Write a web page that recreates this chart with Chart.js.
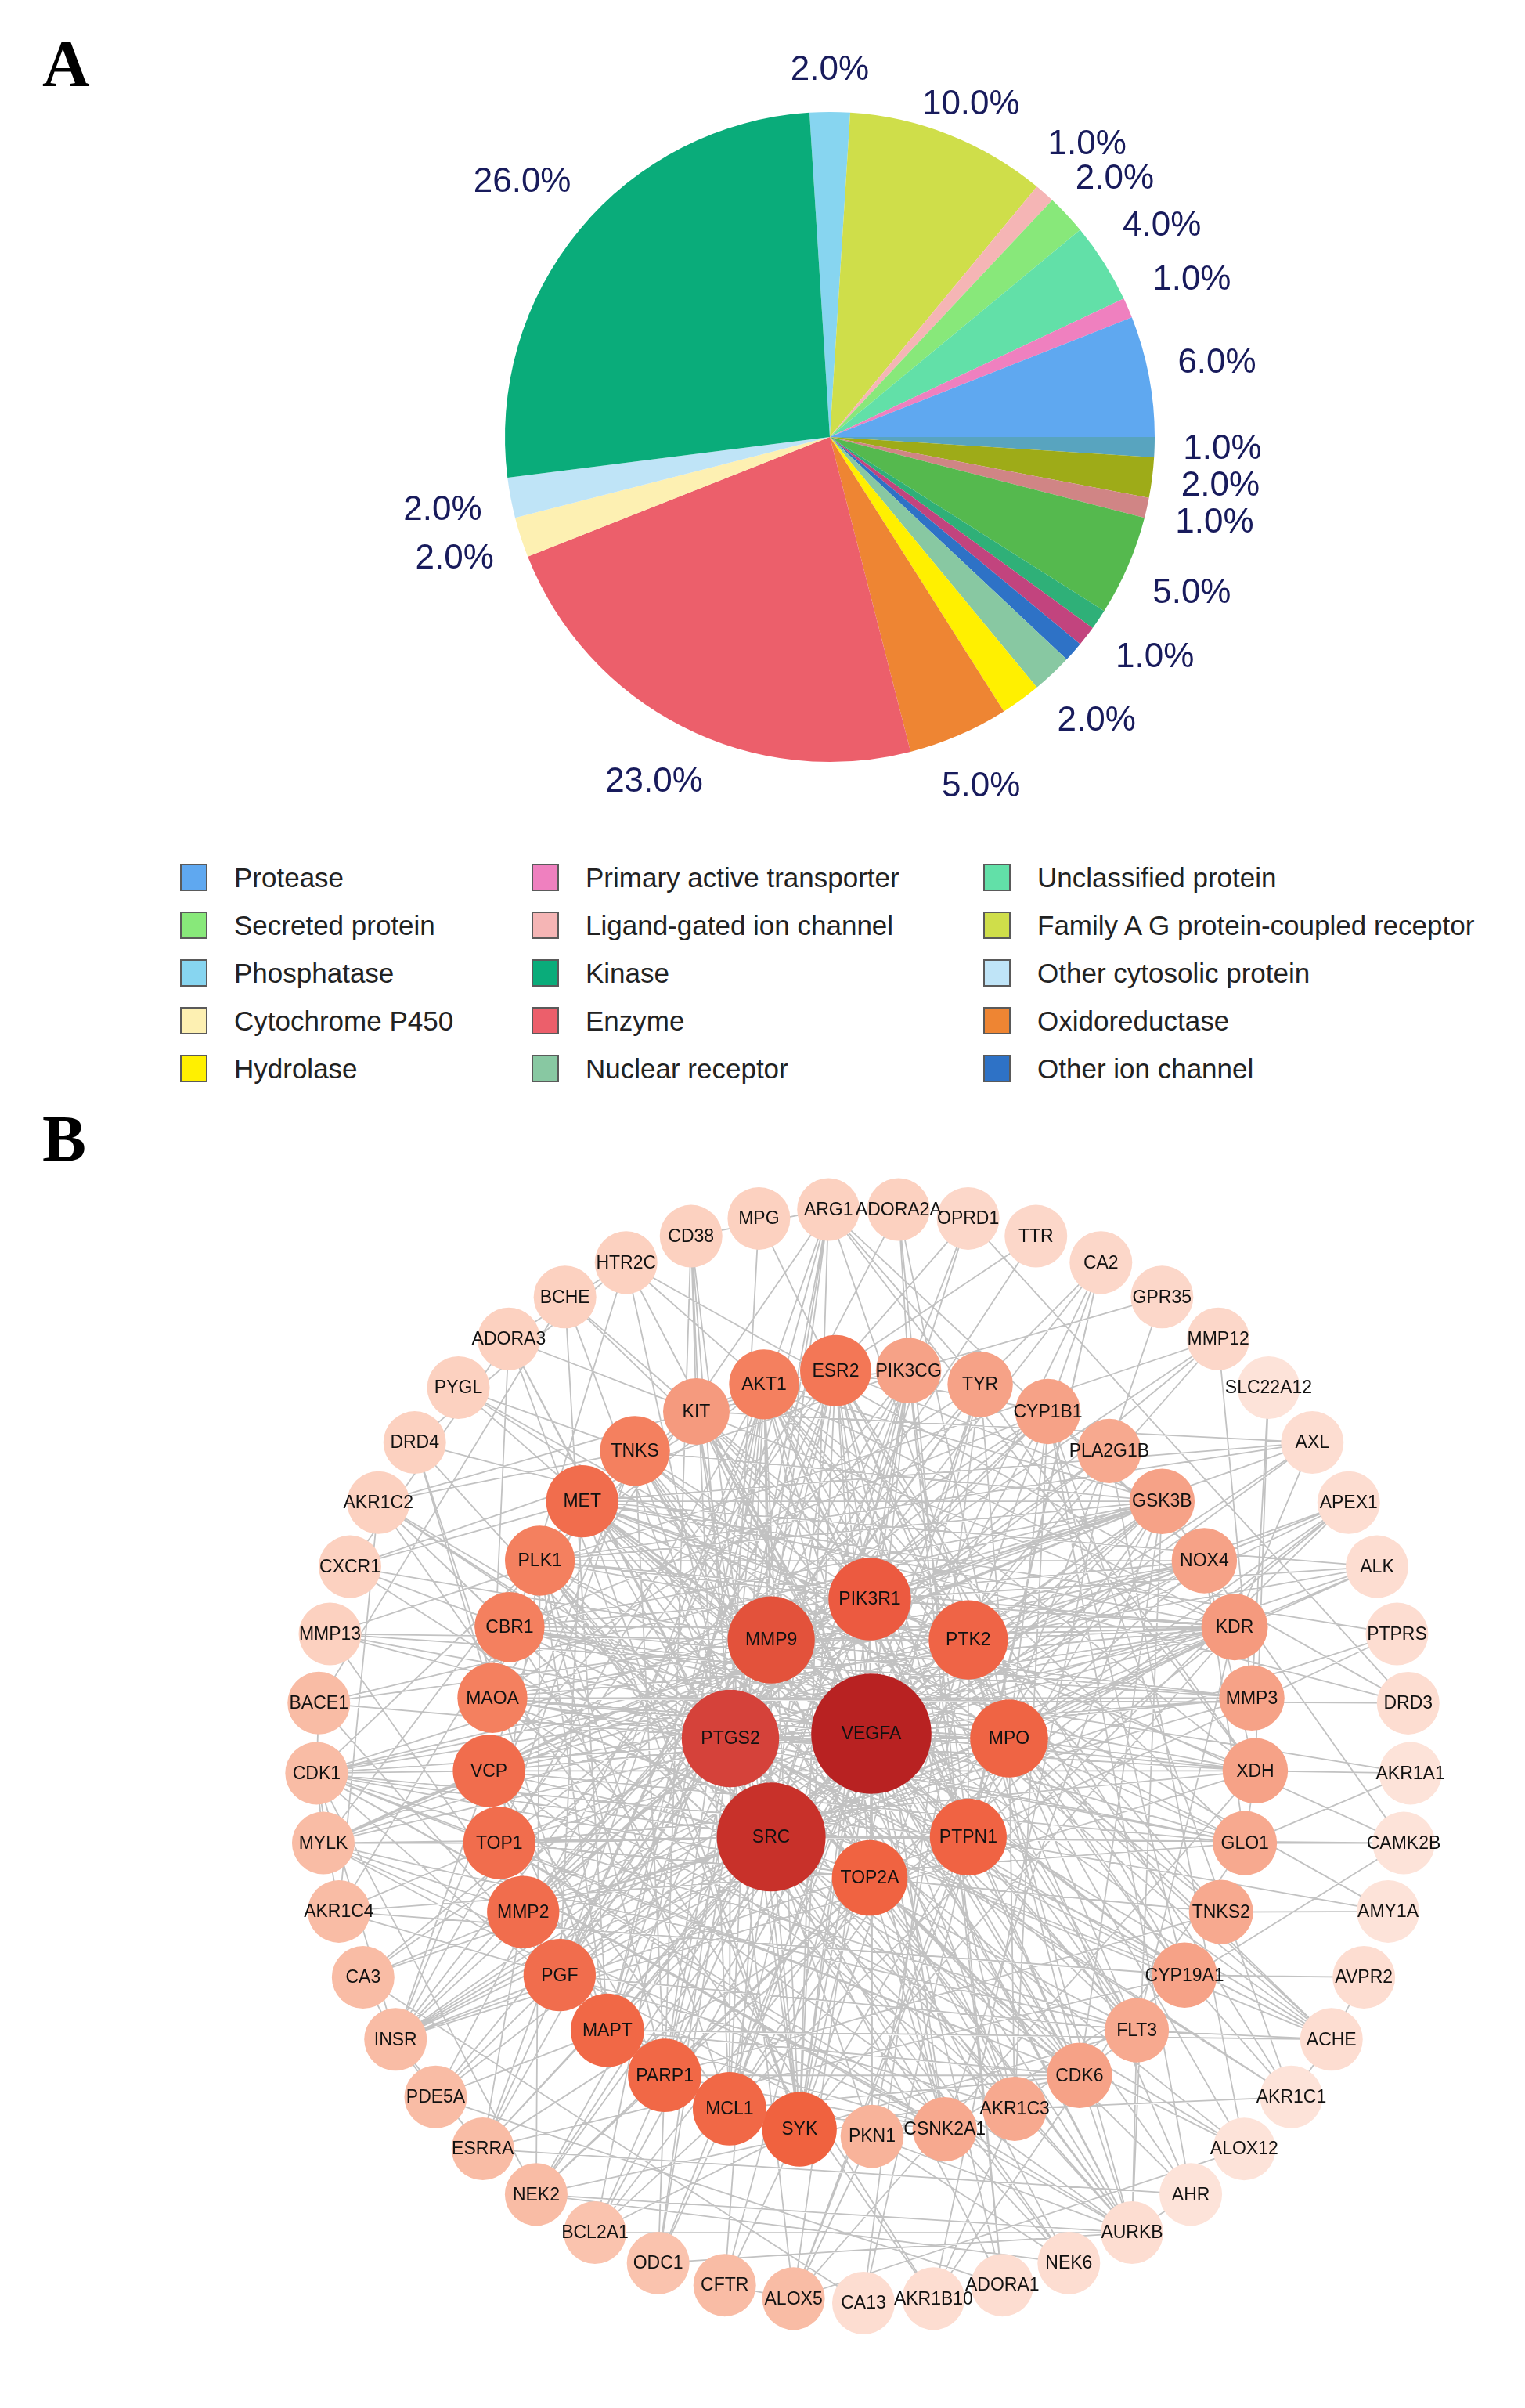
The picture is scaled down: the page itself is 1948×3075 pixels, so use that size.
<!DOCTYPE html>
<html>
<head>
<meta charset="utf-8">
<script src="https://cdn.jsdelivr.net/npm/chart.js@4.4.1/dist/chart.umd.min.js"></script>
<style>
  html, body { margin: 0; padding: 0; background: #fff; }
  body { width: 1948px; height: 3075px; position: relative; overflow: hidden;
         font-family: Arial, "Liberation Sans", sans-serif; }
  .panel { position: absolute; left: 54px; font-family: "Times New Roman", "Liberation Serif", serif;
           font-weight: bold; font-size: 84px; line-height: 1; color: #000; }
  #pie { position: absolute; left: 0; top: 0; }
  #net { position: absolute; left: 0; top: 1460px; }
  #legend { position: absolute; left: 230px; top: 1090px; display: grid;
            grid-template-columns: 449px 577px 640px; grid-auto-rows: 61px; }
  .item { display: flex; align-items: center; font-size: 35px; color: #222; white-space: nowrap; }
  .sw { width: 35px; height: 35px; box-sizing: border-box; border: 2px solid #5a5a5a;
        margin-right: 34px; flex: none; }
</style>
</head>
<body>
<div class="panel" style="top:40px">A</div>
<div class="panel" style="top:1413px">B</div>
<canvas id="pie" width="1948" height="1060"></canvas>
<div id="legend"></div>
<canvas id="net" width="1948" height="1615"></canvas>

<script>
// ---------- panel A data: pie slices, clockwise from 12 o'clock ----------
const sliceLabels = ['Phosphatase', 'Family A G protein-coupled receptor', 'Ligand-gated ion channel',
  'Secreted protein', 'Unclassified protein', 'Primary active transporter', 'Protease',
  'Unlabelled 1', 'Unlabelled 2', 'Unlabelled 3', 'Unlabelled 4', 'Unlabelled 5', 'Unlabelled 6',
  'Other ion channel', 'Nuclear receptor', 'Hydrolase', 'Oxidoreductase', 'Enzyme',
  'Cytochrome P450', 'Other cytosolic protein', 'Kinase'];
const sliceValues = [2, 10, 1, 2, 4, 1, 6, 1, 2, 1, 5, 1, 1, 1, 2, 2, 5, 23, 2, 2, 26];
const sliceColors = ['#87d5f0', '#cfde4a', '#f5b5b5', '#88e87a', '#62e0a8', '#ef80bf', '#5fa8f0',
  '#58a4bf', '#9eab18', '#d08585', '#55b94e', '#2fb078', '#c2447e',
  '#2e72c6', '#88c8a2', '#fff000', '#ee8533', '#ec5f6b', '#fdf0b2', '#bfe4f7', '#0aac7a'];
// percentage labels that are not printed in the figure (crowded slices)
const hiddenPct = ['Unlabelled 6', 'Other ion channel', 'Hydrolase'];
// legend entries, row by row in a 3-column grid
const legendOrder = ['Protease', 'Primary active transporter', 'Unclassified protein',
  'Secreted protein', 'Ligand-gated ion channel', 'Family A G protein-coupled receptor',
  'Phosphatase', 'Kinase', 'Other cytosolic protein',
  'Cytochrome P450', 'Enzyme', 'Oxidoreductase',
  'Hydrolase', 'Nuclear receptor', 'Other ion channel'];

// ---------- panel B data: network nodes by ring, with degree ----------
const hubNode = ['VEGFA'];
const hubDegree = [60];
const innerRing = ['PIK3R1', 'PTK2', 'MPO', 'PTPN1', 'TOP2A', 'SRC', 'PTGS2', 'MMP9'];
const innerDegree = [27, 24, 23, 22, 21, 50, 40, 31];
const middleRing = ['AKT1', 'ESR2', 'PIK3CG', 'TYR', 'CYP1B1', 'PLA2G1B', 'GSK3B', 'NOX4', 'KDR', 'MMP3',
  'XDH', 'GLO1', 'TNKS2', 'CYP19A1', 'FLT3', 'CDK6', 'AKR1C3', 'CSNK2A1', 'PKN1', 'SYK',
  'MCL1', 'PARP1', 'MAPT', 'PGF', 'MMP2', 'TOP1', 'VCP', 'MAOA', 'CBR1', 'PLK1', 'MET', 'TNKS', 'KIT'];
const middleDegree = [16, 17, 12, 12, 12, 11, 12, 12, 13, 12,
  12, 11, 11, 12, 11, 12, 11, 11, 10, 20,
  19, 19, 19, 18, 18, 18, 18, 16, 16, 16, 18, 16, 13];
const outerRing = ['MPG', 'ARG1', 'ADORA2A', 'OPRD1', 'TTR', 'CA2', 'GPR35', 'MMP12', 'SLC22A12', 'AXL',
  'APEX1', 'ALK', 'PTPRS', 'DRD3', 'AKR1A1', 'CAMK2B', 'AMY1A', 'AVPR2', 'ACHE', 'AKR1C1',
  'ALOX12', 'AHR', 'AURKB', 'NEK6', 'ADORA1', 'AKR1B10', 'CA13', 'ALOX5', 'CFTR', 'ODC1',
  'BCL2A1', 'NEK2', 'ESRRA', 'PDE5A', 'INSR', 'CA3', 'AKR1C4', 'MYLK', 'CDK1', 'BACE1',
  'MMP13', 'CXCR1', 'AKR1C2', 'DRD4', 'PYGL', 'ADORA3', 'BCHE', 'HTR2C', 'CD38'];
const outerDegree = [6, 6, 6, 5, 5, 5, 5, 5, 3, 4,
  4, 4, 4, 4, 3, 3, 3, 4, 4, 3,
  3, 3, 4, 4, 4, 4, 4, 9, 9, 8,
  8, 9, 9, 9, 9, 9, 9, 9, 9, 9,
  6, 6, 6, 6, 6, 6, 6, 6, 6];
// interactions: "source: targets"
const edgeGroups = [
  'VEGFA: SRC PTGS2 MMP9 PIK3R1 PTK2 MPO PTPN1 TOP2A AKT1 ESR2 KDR FLT3 PGF MMP2 MMP3 MET KIT GSK3B NOX4 MCL1 PARP1 SYK MAPT TOP1 PLK1 CDK6 XDH GLO1 CYP19A1 MAOA TNKS CBR1 VCP PIK3CG TYR CYP1B1 PLA2G1B AKR1C3 CSNK2A1 PKN1 INSR CDK1 ALOX5 AHR CFTR BCL2A1 ODC1 ESRRA NEK2 MMP13 MMP12 AXL ALK ADORA1 HTR2C APEX1 AURKB CA2',
  'SRC: PTGS2 MMP9 PIK3R1 PTK2 MPO PTPN1 TOP2A AKT1 KDR FLT3 MET KIT SYK PGF MMP2 GSK3B CSNK2A1 PKN1 CDK6 PLK1 ESR2 PIK3CG MAPT PARP1 MCL1 TOP1 VCP TNKS INSR CDK1 AXL ALK AURKB NEK2 NEK6 MYLK CAMK2B PTPRS CXCR1 OPRD1 BCL2A1 ESRRA CA3 DRD4 ADORA3 PDE5A',
  'PTGS2: MMP9 PIK3R1 MPO PTPN1 TOP2A AKT1 ESR2 CYP19A1 CYP1B1 XDH MAOA MMP2 MMP3 PARP1 MCL1 PLA2G1B ALOX5 ALOX12 AKR1C3 CBR1 NOX4 GLO1 TYR PGF BACE1 MMP13 ACHE BCHE AHR ODC1 CA2 AKR1C1 AKR1C2 PDE5A ARG1 HTR2C CD38 MPG',
  'MMP9: PIK3R1 PTK2 MPO TOP2A MMP2 MMP3 MMP13 MMP12 KDR MET PGF AKT1 GSK3B BACE1 CFTR ESRRA INSR ARG1 TTR CXCR1 MYLK CA3',
  'PIK3R1: PTK2 PTPN1 AKT1 PIK3CG KIT MET KDR INSR SYK FLT3 GSK3B ESR2 PLK1 CDK6 CSNK2A1 ALK AXL MYLK CAMK2B PKN1 TNKS NEK2',
  'PTK2: PTPN1 AKT1 MET KDR KIT PLK1 GSK3B CDK1 AURKB SYK FLT3 CDK6 PKN1 MYLK ALK APEX1 CA2',
  'MPO: XDH NOX4 MAOA ALOX5 ALOX12 TYR ARG1 CBR1 GLO1 AKR1C3 CYP19A1 CYP1B1 ADORA2A MPG APEX1 ACHE PYGL',
  'PTPN1: INSR KDR SYK MET AKT1 GSK3B PIK3CG ESR2 FLT3 CDK1 PTPRS PYGL AMY1A CA2 ESRRA',
  'TOP2A: TOP1 PARP1 PLK1 CDK1 CDK6 AURKB NEK2 NEK6 CSNK2A1 MCL1 TNKS TNKS2 APEX1 BCL2A1 ESR2',
  'AKT1: GSK3B ESR2 MCL1 PARP1 CDK6 PIK3CG INSR MAPT PLK1 KDR BCL2A1 CSNK2A1 ESRRA HTR2C KIT MET FLT3 SYK TNKS2 CYP19A1 XDH GLO1',
  'ESR2: ESRRA CYP19A1 CYP1B1 AKR1C3 AKR1C1 AKR1C2 TTR OPRD1 AHR MAPT PGF TOP1 PARP1 SYK',
  'PIK3CG: SYK KIT ADORA2A ADORA1 CXCR1 OPRD1 GPR35 MCL1 PARP1 MAPT PGF',
  'TYR: MAOA XDH CA2 CA13 SYK MCL1 PGF MMP2',
  'CYP1B1: CYP19A1 AHR AKR1C3 AKR1C1 MMP2 TOP1 VCP',
  'PLA2G1B: ALOX5 ALOX12 AKR1B10 CA3 GPR35',
  'GSK3B: MAPT CDK1 CDK6 CSNK2A1 PLK1 AURKB BACE1 CAMK2B ESR2 MCL1 VCP MAOA CBR1 MET TNKS',
  'NOX4: XDH MAOA APEX1 GLO1 CYP1B1 CBR1 VCP PLK1',
  'KDR: FLT3 MET KIT PGF AXL ALK TOP1 VCP MAOA CBR1 PLK1 MMP2',
  'MMP3: MMP2 MMP12 MMP13 SLC22A12 MAOA CBR1 VCP',
  'XDH: GLO1 AKR1A1 ARG1 SLC22A12 TYR ALOX5 CBR1 VCP MAOA TOP1',
  'GLO1: AKR1A1 AKR1B10 CAMK2B AKR1C4 CBR1 MAOA VCP',
  'TNKS2: TNKS PARP1 AMY1A',
  'CYP19A1: AKR1C3 AKR1C1 AKR1C4 ESRRA AVPR2 CYP1B1',
  'FLT3: KIT SYK CDK6 ACHE AURKB',
  'CDK6: CDK1 PLK1 AURKB NEK2 MET TNKS KIT',
  'AKR1C3: AKR1C1 AKR1C2 AKR1C4 AKR1B10 CBR1 MAOA TNKS',
  'CSNK2A1: PKN1 PLK1 NEK6 CAMK2B',
  'PKN1: NEK6 AURKB ALOX5',
  'SYK: MCL1 BCL2A1 ADORA3 CFTR KDR FLT3 PIK3CG KIT',
  'MCL1: BCL2A1 PARP1 ODC1 CDK6 CSNK2A1',
  'PARP1: TOP1 APEX1 NEK2 ODC1 AKT1 CDK6 PLK1 CSNK2A1',
  'MAPT: BACE1 ACHE BCHE PDE5A CDK1 DRD4 CDK6 CSNK2A1 PLK1',
  'PGF: MMP2 INSR PDE5A KDR FLT3 MET',
  'MMP2: MMP13 CA3 MYLK ESRRA MMP3 MMP12 KDR',
  'TOP1: CDK1 MYLK AKR1C4 CDK6 CSNK2A1 PLK1',
  'VCP: CDK1 PARP1 INSR MYLK MAPT MCL1 GSK3B ESR2',
  'MAOA: CBR1 DRD4 HTR2C ADORA3 DRD3 XDH NOX4 TYR CYP19A1 GLO1',
  'CBR1: AKR1C2 AKR1C4 AKR1A1 CXCR1 AKR1C3 AKR1B10 CYP1B1',
  'PLK1: AURKB CDK1 NEK2 NEK6 MCL1 CSNK2A1',
  'MET: AXL ALK INSR PTPRS CXCR1 GSK3B SYK FLT3 CDK6 AURKB MYLK GLO1 XDH CYP19A1',
  'TNKS: INSR AKR1C2 PYGL PARP1 TOP1 GSK3B',
  'KIT: CD38 BCHE ADORA3 MET FLT3 PLK1 CDK1 AKR1C3 TNKS2',
  'CDK1: INSR MYLK BACE1 AKR1C4 NEK2 CDK6 AURKB CSNK2A1 KDR NOX4 FLT3',
  'INSR: PDE5A ESRRA CA3 GSK3B PIK3CG KDR NOX4 XDH',
  'AURKB: NEK2 ODC1 BCL2A1 TOP1 VCP MET PLK1 KIT TNKS',
  'ACHE: BCHE AVPR2 AKR1C1 MAOA CBR1 MET PLK1 TNKS',
  'ARG1: ODC1 CD38 NOX4 MAOA TYR PGF MAPT SYK',
  'MYLK: PKN1 CSNK2A1 KDR FLT3 GSK3B',
  'AXL: MET PLK1 KIT',
  'CD38: SYK MCL1 PARP1',
  'ALOX12: MAOA VCP',
  'MMP13: MMP12',
  'CXCR1: ADORA3',
  'HTR2C: ADORA3 DRD3 DRD4',
  'ALOX5: ALOX12 CFTR',
  'AKR1C2: AKR1C4 CYP19A1 AKR1B10',
  'AKR1C1: AKR1C2',
  'BACE1: BCHE',
  'CA3: CA13',
  'CA2: CA13',
  'NEK2: NEK6',
  'PDE5A: ADORA2A ADORA1',
  'APEX1: TOP1 PARP1 MCL1',
  'AHR: ESRRA AURKB',
  'ADORA1: ADORA2A ADORA3',
  'DRD3: DRD4 OPRD1',
  'AMY1A: PYGL'
];

// ---------- panel A ----------
const total = sliceValues.reduce((a, b) => a + b, 0);

const pctLabels = {
  id: 'pctLabels',
  afterDatasetsDraw(chart) {
    const ctx = chart.ctx;
    const meta = chart.getDatasetMeta(0);
    ctx.save();
    ctx.font = '44px Arial, "Liberation Sans", sans-serif';
    ctx.fillStyle = '#181b5c';
    ctx.textAlign = 'center';
    ctx.textBaseline = 'middle';
    const placed = [];
    meta.data.forEach((arc, i) => {
      if (hiddenPct.includes(sliceLabels[i])) return;
      const p = arc.getProps(['x', 'y', 'startAngle', 'endAngle', 'outerRadius'], true);
      const mid = (p.startAngle + p.endAngle) / 2;
      const txt = (sliceValues[i] / total * 100).toFixed(1) + '%';
      const hw = ctx.measureText(txt).width / 2, hh = 17;
      // keep the near edge of the text box a fixed gap from the rim
      const r = p.outerRadius + 36 + Math.abs(Math.cos(mid)) * hw + Math.abs(Math.sin(mid)) * hh;
      placed.push({ txt, x: p.x + Math.cos(mid) * r, y: p.y + Math.sin(mid) * r, right: Math.cos(mid) > 0 });
    });
    // push crowded labels on the right side apart vertically
    const right = placed.filter(l => l.right).sort((a, b) => a.y - b.y);
    for (let k = 1; k < right.length; k++) {
      if (right[k].y - right[k - 1].y < 44) right[k].y = right[k - 1].y + 44;
    }
    placed.forEach(l => ctx.fillText(l.txt, l.x, l.y));
    ctx.restore();
  }
};

new Chart(document.getElementById('pie'), {
  type: 'pie',
  data: {
    labels: sliceLabels,
    datasets: [{ data: sliceValues, backgroundColor: sliceColors, borderWidth: 0 }]
  },
  options: {
    responsive: false,
    animation: false,
    devicePixelRatio: 1,
    events: [],
    rotation: -3.6,
    layout: { padding: { left: 645, right: 473, top: 143, bottom: 87 } },
    plugins: { legend: { display: false }, tooltip: { enabled: false } }
  },
  plugins: [pctLabels]
});

// html legend built from the same arrays
const legendEl = document.getElementById('legend');
legendOrder.forEach(name => {
  const item = document.createElement('div');
  item.className = 'item';
  const sw = document.createElement('span');
  sw.className = 'sw';
  sw.style.background = sliceColors[sliceLabels.indexOf(name)];
  item.appendChild(sw);
  item.appendChild(document.createTextNode(name));
  legendEl.appendChild(item);
});

// ---------- panel B ----------
// concentric layout: page-pixel units, angles clockwise from top
const rings = [
  { names: hubNode, deg: hubDegree, cx: 1113, cy: 2214, R: 0, start: 0 },
  { names: innerRing, deg: innerDegree, cx: 1111, cy: 2220, R: 178, start: 0 },
  { names: middleRing, deg: middleDegree, cx: 1114, cy: 2238, R: 490, start: -16.36 },
  { names: outerRing, deg: outerDegree, cx: 1103, cy: 2242, R: 699, start: -11.02 }
];
const nodes = [];
rings.forEach(ring => {
  const n = ring.names.length;
  ring.names.forEach((name, i) => {
    const a = (ring.start + i * 360 / n) * Math.PI / 180;
    nodes.push({ name, deg: ring.deg[i], x: ring.cx + ring.R * Math.sin(a), y: ring.cy - ring.R * Math.cos(a) });
  });
});
const nodeIndex = {};
nodes.forEach((n, i) => { nodeIndex[n.name] = i; });

const edgePoints = [];
edgeGroups.forEach(g => {
  const [src, rest] = g.split(':');
  const a = nodes[nodeIndex[src.trim()]];
  rest.trim().split(/\s+/).forEach(t => {
    const b = nodes[nodeIndex[t]];
    if (!a || !b) return;
    edgePoints.push({ x: a.x, y: a.y }, { x: b.x, y: b.y }, { x: null, y: null });
  });
});

const colorStops = [[3, '#fde3d9'], [5, '#fcd7c9'], [7, '#fbcab7'], [9, '#f9bca5'], [11, '#f7a98f'],
  [13, '#f59a7e'], [16, '#f4805f'], [18, '#f16d4d'], [20, '#f0623f'], [24, '#ef6446'],
  [27, '#ec5a40'], [31, '#e3523b'], [40, '#d5423a'], [50, '#c8312a'], [60, '#b82222']];
function hex(c) { return [1, 3, 5].map(k => parseInt(c.substr(k, 2), 16)); }
function nodeColor(d) {
  if (d <= colorStops[0][0]) return colorStops[0][1];
  for (let i = 1; i < colorStops.length; i++) {
    if (d <= colorStops[i][0]) {
      const [d0, c0] = colorStops[i - 1], [d1, c1] = colorStops[i];
      const t = (d - d0) / (d1 - d0);
      const a = hex(c0), b = hex(c1);
      return 'rgb(' + a.map((v, k) => Math.round(v + (b[k] - v) * t)).join(',') + ')';
    }
  }
  return colorStops[colorStops.length - 1][1];
}
function nodeRadius(d) { return Math.max(40, 33 + 0.73 * d); }

const nodeLabels = {
  id: 'nodeLabels',
  afterDatasetsDraw(chart) {
    const ctx = chart.ctx;
    const meta = chart.getDatasetMeta(0);
    ctx.save();
    ctx.font = '23px Arial, "Liberation Sans", sans-serif';
    ctx.fillStyle = '#111';
    ctx.textAlign = 'center';
    ctx.textBaseline = 'middle';
    meta.data.forEach((pt, i) => { ctx.fillText(nodes[i].name, pt.x, pt.y + 1); });
    ctx.restore();
  }
};

new Chart(document.getElementById('net'), {
  type: 'scatter',
  data: {
    datasets: [
      {
        data: nodes.map(n => ({ x: n.x, y: n.y })),
        order: 0,
        pointRadius: c => nodeRadius(nodes[c.dataIndex].deg),
        pointHoverRadius: c => nodeRadius(nodes[c.dataIndex].deg),
        pointBackgroundColor: c => nodeColor(nodes[c.dataIndex].deg),
        pointBorderWidth: 0
      },
      {
        data: edgePoints,
        order: 1,
        showLine: true,
        spanGaps: false,
        borderColor: '#c2c2c2',
        borderWidth: 1.8,
        pointRadius: 0,
        pointHoverRadius: 0
      }
    ]
  },
  options: {
    responsive: false,
    animation: false,
    devicePixelRatio: 1,
    events: [],
    layout: { padding: 0, autoPadding: false },
    scales: {
      x: { type: 'linear', min: 0, max: 1948, display: false },
      y: { type: 'linear', min: 1460, max: 3075, reverse: true, display: false }
    },
    plugins: { legend: { display: false }, tooltip: { enabled: false } }
  },
  plugins: [nodeLabels]
});
</script>
</body>
</html>
